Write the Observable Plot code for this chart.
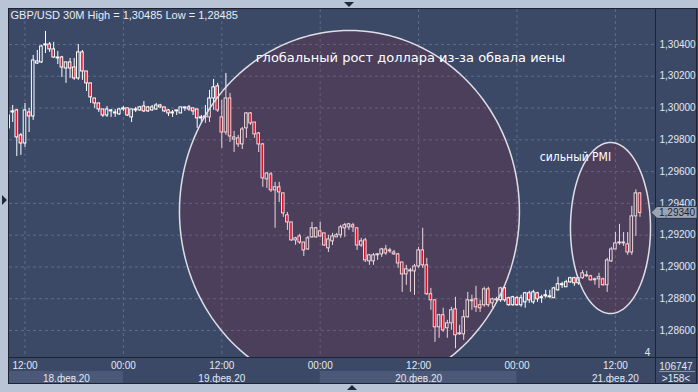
<!DOCTYPE html>
<html><head><meta charset="utf-8">
<script src="https://cdn.jsdelivr.net/npm/d3@7"></script>
<script src="https://cdn.jsdelivr.net/npm/@observablehq/plot@0.6"></script>
<style>
html,body{margin:0;padding:0;background:#b9c5d6;overflow:hidden;}
</style></head><body><div id="chart"></div>
<script>
// ---- data: GBP/USD 30-minute candles, 18.02.2020 10:00 -> 21.02.2020 15:00 ----
const startTime = "2020-02-18T10:00:00Z";
const stepMinutes = 30;
const open = [
1.29872,1.29972,1.29985,1.29828,1.29777,1.29972,1.29947,1.30280,1.30287,1.30394,
1.30400,1.30369,1.30312,1.30318,1.30249,1.30287,1.30255,1.30186,1.30350,1.30230,
1.30155,1.30060,1.30029,1.29991,1.29953,1.29979,1.29972,1.29960,1.29991,1.29998,
1.29941,1.29985,1.29985,1.30010,1.30004,1.29985,1.29991,1.30016,1.30004,1.29985,
1.29966,1.29979,1.29966,1.29998,1.30004,1.29998,1.29991,1.29935,1.29941,1.29941,
1.30060,1.30136,1.29941,1.29846,1.30060,1.29802,1.29809,1.29771,1.29872,1.29966,
1.29909,1.29840,1.29771,1.29551,1.29582,1.29482,1.29501,1.29463,1.29325,1.29280,
1.29167,1.29192,1.29154,1.29110,1.29186,1.29186,1.29224,1.29211,1.29117,1.29161,
1.29186,1.29199,1.29243,1.29249,1.29262,1.29243,1.29135,1.29167,1.29035,1.29035,
1.29073,1.29079,1.29110,1.29098,1.29091,1.29079,1.29028,1.28953,1.28972,1.28972,
1.29003,1.29104,1.29010,1.28828,1.28790,1.28620,1.28696,1.28614,1.28645,1.28733,
1.28576,1.28576,1.28683,1.28784,1.28796,1.28759,1.28759,1.28859,1.28771,1.28790,
1.28790,1.28865,1.28803,1.28759,1.28803,1.28759,1.28777,1.28834,1.28777,1.28834,
1.28803,1.28815,1.28809,1.28803,1.28853,1.28885,1.28872,1.28903,1.28929,1.28897,
1.28929,1.28941,1.28941,1.28916,1.28922,1.28922,1.28885,1.29035,1.29110,1.29148,
1.29148,1.29142,1.29091,1.29318,1.29463];
const high = [
1.29979,1.30016,1.29991,1.29840,1.30029,1.29998,1.30331,1.30362,1.30394,1.30482,
1.30413,1.30413,1.30356,1.30325,1.30287,1.30312,1.30312,1.30400,1.30362,1.30230,
1.30155,1.30060,1.30029,1.29991,1.30010,1.29991,1.29991,1.29998,1.30010,1.29998,
1.29991,1.30004,1.30010,1.30041,1.30010,1.30016,1.30029,1.30023,1.30004,1.29991,
1.29985,1.29985,1.30004,1.30004,1.30016,1.29998,1.29991,1.29953,1.30016,1.30111,
1.30180,1.30155,1.30048,1.30217,1.30092,1.29853,1.29828,1.29878,1.29972,1.29972,
1.29909,1.29846,1.29777,1.29594,1.29594,1.29532,1.29532,1.29463,1.29343,1.29280,
1.29186,1.29205,1.29154,1.29192,1.29280,1.29249,1.29280,1.29211,1.29199,1.29211,
1.29211,1.29262,1.29274,1.29274,1.29274,1.29243,1.29180,1.29180,1.29079,1.29085,
1.29085,1.29117,1.29136,1.29117,1.29104,1.29085,1.29028,1.29010,1.28991,1.29016,
1.29123,1.29243,1.29054,1.28865,1.28790,1.28702,1.28740,1.28664,1.28746,1.28809,
1.28632,1.28727,1.28840,1.28822,1.28878,1.28790,1.28872,1.28872,1.28803,1.28809,
1.28872,1.28872,1.28809,1.28815,1.28815,1.28822,1.28840,1.28847,1.28853,1.28840,
1.28822,1.28853,1.28853,1.28872,1.28935,1.28903,1.28916,1.28935,1.28935,1.28935,
1.28978,1.28972,1.28947,1.28929,1.28960,1.28929,1.29054,1.29123,1.29217,1.29268,
1.29217,1.29217,1.29381,1.29485,1.29463];
const low = [
1.29859,1.29909,1.29695,1.29702,1.29752,1.29846,1.29922,1.30274,1.30280,1.30343,
1.30350,1.30312,1.30274,1.30192,1.30155,1.30186,1.30174,1.30174,1.30174,1.30104,
1.30029,1.29998,1.29972,1.29941,1.29941,1.29941,1.29941,1.29953,1.29979,1.29947,
1.29909,1.29972,1.29979,1.29972,1.29972,1.29979,1.29985,1.29998,1.29972,1.29947,
1.29941,1.29953,1.29966,1.29979,1.29979,1.29953,1.29872,1.29909,1.29903,1.29909,
1.29985,1.29972,1.29746,1.29828,1.29784,1.29720,1.29752,1.29739,1.29809,1.29891,
1.29809,1.29720,1.29501,1.29494,1.29469,1.29243,1.29406,1.29312,1.29230,1.29161,
1.29136,1.29142,1.29066,1.29104,1.29180,1.29180,1.29186,1.29129,1.29091,1.29135,
1.29186,1.29180,1.29186,1.29230,1.29217,1.29104,1.29123,1.29028,1.29010,1.29010,
1.29041,1.29060,1.29073,1.29085,1.29073,1.28991,1.28840,1.28884,1.28840,1.28821,
1.28991,1.28991,1.28821,1.28727,1.28525,1.28551,1.28588,1.28551,1.28601,1.28485,
1.28570,1.28538,1.28677,1.28727,1.28714,1.28714,1.28746,1.28746,1.28740,1.28777,
1.28777,1.28777,1.28752,1.28752,1.28752,1.28746,1.28740,1.28771,1.28765,1.28777,
1.28771,1.28803,1.28803,1.28803,1.28847,1.28865,1.28872,1.28897,1.28878,1.28885,
1.28922,1.28935,1.28910,1.28885,1.28865,1.28878,1.28840,1.29028,1.29110,1.29136,
1.29129,1.29073,1.29073,1.29192,1.29312];
const close = [
1.29953,1.29979,1.29815,1.29777,1.29985,1.29947,1.30299,1.30293,1.30387,1.30400,
1.30369,1.30318,1.30318,1.30255,1.30287,1.30249,1.30186,1.30350,1.30230,1.30155,
1.30067,1.30029,1.29991,1.29953,1.29991,1.29985,1.29966,1.29991,1.29998,1.29953,
1.29991,1.29991,1.30004,1.29979,1.29979,1.30004,1.30016,1.30004,1.29979,1.29966,
1.29972,1.29985,1.30004,1.30004,1.29991,1.29979,1.29935,1.29941,1.29947,1.30060,
1.30130,1.29985,1.29846,1.30060,1.29821,1.29815,1.29771,1.29865,1.29966,1.29903,
1.29834,1.29771,1.29557,1.29588,1.29482,1.29501,1.29469,1.29337,1.29280,1.29167,
1.29180,1.29154,1.29104,1.29180,1.29243,1.29243,1.29192,1.29135,1.29173,1.29192,
1.29199,1.29249,1.29262,1.29268,1.29249,1.29135,1.29161,1.29041,1.29073,1.29073,
1.29079,1.29110,1.29085,1.29104,1.29079,1.29022,1.28953,1.28985,1.28978,1.29003,
1.29104,1.29010,1.28828,1.28790,1.28620,1.28696,1.28601,1.28645,1.28727,1.28570,
1.28582,1.28683,1.28790,1.28790,1.28746,1.28740,1.28859,1.28759,1.28796,1.28796,
1.28865,1.28790,1.28759,1.28809,1.28759,1.28803,1.28834,1.28790,1.28840,1.28796,
1.28809,1.28822,1.28815,1.28865,1.28891,1.28891,1.28903,1.28929,1.28897,1.28929,
1.28960,1.28947,1.28916,1.28922,1.28935,1.28885,1.29041,1.29110,1.29148,1.29154,
1.29154,1.29091,1.29318,1.29463,1.29340];

const priceTicks = [1.286, 1.288, 1.290, 1.292, 1.294, 1.296, 1.298, 1.300, 1.302, 1.304];
const timeTicks = ["2020-02-18T12:00Z","2020-02-19T00:00Z","2020-02-19T12:00Z","2020-02-20T00:00Z","2020-02-20T12:00Z","2020-02-21T00:00Z","2020-02-21T12:00Z"];
const dayStarts = ["2020-02-18T00:00Z","2020-02-19T00:00Z","2020-02-20T00:00Z","2020-02-21T00:00Z"];
const dayLabels = ["18.фев.20","19.фев.20","20.фев.20","21.фев.20"];
const headerText = "GBP/USD 30M High = 1,30485 Low = 1,28485";
const noteTexts = ["глобальный рост доллара из-за обвала иены", "сильный PMI"];
const noteTimes = ["2020-02-20T11:01Z", "2020-02-21T07:08Z"];
const notePrices = [1.30318, 1.29689];
const ellipseCenterTimes = ["2020-02-20T03:34Z", "2020-02-21T11:24Z"];
const ellipseCenterPrices = [1.29349, 1.29245];
const ellipseHalfWidthHours = [20.73, 4.88];
const ellipseHalfHeights = [0.01139, 0.00538];
const volumeText = "106747";
const barsText = ">158<";

// ---- build tables ----
const t0 = new Date(startTime).getTime();
const candles = open.map((o, i) => ({
  t: new Date(t0 + i * stepMinutes * 60000), o, h: high[i], l: low[i], c: close[i]
}));
const xDomain = [new Date("2020-02-18T10:06:35Z"), new Date("2020-02-21T16:53:25Z")];
const yDomain = [1.28430, 1.30620];

const ellipsePts = [];
ellipseCenterTimes.forEach((ct, k) => {
  const c = new Date(ct).getTime();
  for (let a = 0; a < 360; a += 2) {
    const r = a * Math.PI / 180;
    ellipsePts.push({id: k, t: new Date(c + Math.cos(r) * ellipseHalfWidthHours[k] * 3600000),
                     p: ellipseCenterPrices[k] + Math.sin(r) * ellipseHalfHeights[k]});
  }
});
const notes = noteTexts.map((s, i) => ({s, t: new Date(noteTimes[i]), p: notePrices[i]}));
const days = dayStarts.map((d, i) => {
  const s = new Date(d).getTime(), e = s + 86400000;
  const s2 = Math.max(s, xDomain[0].getTime());
  return {label: dayLabels[i], s: new Date(s2), e: new Date(Math.min(e, xDomain[1].getTime())),
          mid: new Date((s2 + e) / 2), light: i % 2 === 0};
});

const bg = "#3b4967";
const gridColor = "#5e6c89";
const txt = "#e3e8f1";
const fmtPrice = d => d.toFixed(5).replace(".", ",");

const chart = Plot.plot({
  width: 698, height: 392,
  marginLeft: 9, marginRight: 43, marginTop: 9, marginBottom: 35,
  style: {background: "#b9c5d6", fontFamily: "'Liberation Sans', Arial, sans-serif", fontSize: "10px", color: txt},
  x: {type: "utc", domain: xDomain},
  y: {domain: yDomain},
  marks: [
    Plot.frame({fill: bg, stroke: null}),
    Plot.gridY(priceTicks, {stroke: gridColor, strokeOpacity: 1, strokeDasharray: "3,3"}),
    Plot.gridX(timeTicks.map(d => new Date(d)), {stroke: gridColor, strokeOpacity: 1, strokeDasharray: "3,3"}),
    Plot.ruleX(candles, {x: "t", y1: "l", y2: "h", stroke: "#ffffff", strokeWidth: 1, clip: true}),
    Plot.rect(candles, {x1: "t", x2: "t", y1: "o", y2: "c", fill: "#ffffff",
      insetLeft: -1.8, insetRight: -1.8, insetTop: -0.5, insetBottom: -0.5, clip: true}),
    Plot.rect(candles, {x1: "t", x2: "t", y1: "o", y2: "c",
      fill: d => d.c < d.o ? "#e5102a" : bg,
      insetLeft: -0.8, insetRight: -0.8, insetTop: 0.5, insetBottom: 0.5, clip: true}),
    Plot.line(ellipsePts, {x: "t", y: "p", z: "id", curve: "linear-closed", fill: "#a0142c",
      fillOpacity: 0.17, stroke: "none", clip: true}),
    Plot.line(ellipsePts, {x: "t", y: "p", z: "id", curve: "linear-closed", fill: "none",
      stroke: "#dedfe6", strokeWidth: 1.5, clip: true}),
    Plot.text(notes.slice(0, 1), {x: "t", y: "p", text: "s", fill: "#ffffff", fontSize: 13,
      fontFamily: "'DejaVu Sans', Verdana, sans-serif", textAnchor: "middle"}),
    Plot.text(notes.slice(1), {x: "t", y: "p", text: "s", fill: "#ffffff", fontSize: 12,
      fontFamily: "'DejaVu Sans Condensed', 'DejaVu Sans', sans-serif", textAnchor: "middle"}),
    Plot.text([headerText], {frameAnchor: "top-left", dx: 1, dy: 6, lineAnchor: "middle",
      fill: "#e8edf5", fontSize: 11}),
    Plot.text(["4"], {frameAnchor: "bottom-right", dx: -8, dy: -5, lineAnchor: "middle",
      textAnchor: "middle", fill: txt, fontSize: 10}),
    Plot.axisY(priceTicks, {anchor: "right", tickSize: 0, tickPadding: 4, tickFormat: fmtPrice,
      label: null, fill: txt, fontSize: 10}),
    Plot.axisX(timeTicks.map(d => new Date(d)), {anchor: "bottom", tickSize: 0, tickPadding: 4,
      tickFormat: d3.utcFormat("%H:%M"), label: null, fill: txt, fontSize: 10}),
    Plot.text(days, {x: "mid", text: "label", frameAnchor: "bottom", dy: 21, lineAnchor: "middle",
      fill: txt, fontSize: 10})
  ]
});
document.getElementById("chart").appendChild(chart);

// ---- chrome (panels, borders, markers) using the plot's own scales ----
const svg = d3.select(chart);
const xs = chart.scale("x"), ys = chart.scale("y");
const X = d3.scaleUtc(xs.domain, xs.range), Y = d3.scaleLinear(ys.domain, ys.range);
const back = svg.insert("g", ":first-child");
back.append("rect").attr("x", 8).attr("y", 8).attr("width", 690).attr("height", 376).attr("fill", bg);
days.forEach(d => {
  if (!d.light) return;
  back.append("rect").attr("x", X(d.s)).attr("y", 371).attr("width", X(d.e) - X(d.s)).attr("height", 12)
    .attr("fill", "#4b5877");
});
const front = svg.append("g").attr("font-family", "'Liberation Sans', Arial, sans-serif");
front.append("rect").attr("x", 8.5).attr("y", 8.5).attr("width", 688).attr("height", 375)
  .attr("fill", "none").attr("stroke", "#1c2434");
front.append("line").attr("x1", 8).attr("x2", 698).attr("y1", 357.5).attr("y2", 357.5).attr("stroke", "#1c2434");
front.append("line").attr("x1", 655.5).attr("x2", 655.5).attr("y1", 8).attr("y2", 384).attr("stroke", "#1c2434");
front.append("line").attr("x1", 659).attr("x2", 695).attr("y1", 371.5).attr("y2", 371.5).attr("stroke", "#8c97aa");
front.append("text").attr("x", 676).attr("y", 366).attr("text-anchor", "middle").attr("dy", "0.35em")
  .attr("fill", txt).attr("font-size", 10).text(volumeText);
front.append("text").attr("x", 676).attr("y", 378).attr("text-anchor", "middle").attr("dy", "0.35em")
  .attr("fill", txt).attr("font-size", 10).text(barsText);
// navigation triangles
front.append("path").attr("d", "M344,2L354,2L349,7Z").attr("fill", "#1f2a3c");
front.append("path").attr("d", "M2,195L7,200L2,205Z").attr("fill", "#1f2a3c");
front.append("path").attr("d", "M347,390L357,390L352,385Z").attr("fill", "#1f2a3c");
// last price tag (drawn over the axis, as in the terminal)
const lastY = Y(close[close.length - 1]);
front.append("path").attr("d", `M651,${lastY}L657,${lastY - 6}L697,${lastY - 6}L697,${lastY + 6}L657,${lastY + 6}Z`)
  .attr("fill", "#9aa4b5").attr("stroke", "#2b3446");
front.append("text").attr("x", 659).attr("y", lastY).attr("dy", "0.35em").attr("text-anchor", "start")
  .attr("fill", "#1c2330").attr("font-size", 10).text(fmtPrice(close[close.length - 1]));
</script>
</body></html>
